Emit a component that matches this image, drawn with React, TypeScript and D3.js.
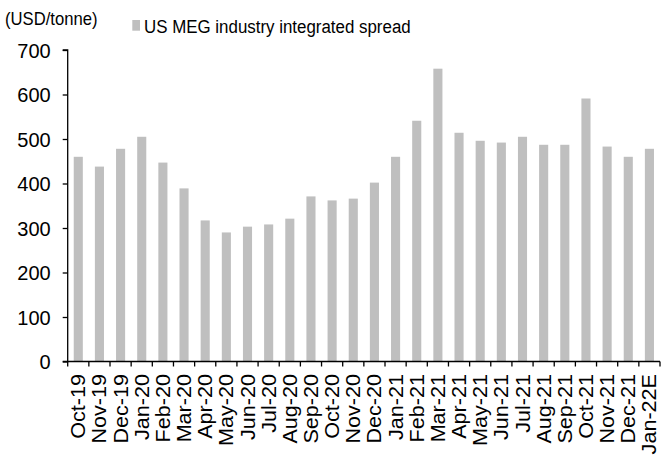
import { useEffect, useRef } from 'react';
import * as d3 from 'd3';

const months = [
  'Oct-19', 'Nov-19', 'Dec-19', 'Jan-20', 'Feb-20', 'Mar-20', 'Apr-20',
  'May-20', 'Jun-20', 'Jul-20', 'Aug-20', 'Sep-20', 'Oct-20', 'Nov-20',
  'Dec-20', 'Jan-21', 'Feb-21', 'Mar-21', 'Apr-21', 'May-21', 'Jun-21',
  'Jul-21', 'Aug-21', 'Sep-21', 'Oct-21', 'Nov-21', 'Dec-21', 'Jan-22E',
];

const spread = [
  460, 438, 478, 505, 447, 389, 317,
  290, 303, 308, 321, 371, 362, 366,
  402, 460, 541, 658, 514, 496, 492,
  505, 487, 487, 591, 483, 460, 478,
];

const yTicks = [0, 100, 200, 300, 400, 500, 600, 700];

const W = 666;
const H = 455;
const MARGIN = { top: 50, right: 6, bottom: 93.5, left: 67.7 };
const BAR_COLOR = '#bfbfbf';
const FONT = '"Liberation Sans", Arial, sans-serif';

export default function App() {
  const ref = useRef<SVGSVGElement | null>(null);

  useEffect(() => {
    if (!ref.current) return;
    const svg = d3.select(ref.current);
    svg.selectAll('*').remove();

    const innerW = W - MARGIN.left - MARGIN.right;
    const innerH = H - MARGIN.top - MARGIN.bottom;

    const x = d3.scaleBand<string>().domain(months).range([0, innerW]).paddingInner(0.57).paddingOuter(0.285);
    const xTicks = d3.scaleLinear().domain([0, months.length]).range([0, innerW]);
    const y = d3.scaleLinear().domain([0, 700]).range([innerH, 0]);

    const g = svg.append('g').attr('transform', `translate(${MARGIN.left},${MARGIN.top})`);

    g.selectAll('rect.bar')
      .data(spread)
      .enter()
      .append('rect')
      .attr('class', 'bar')
      .attr('x', (_, i) => x(months[i]) as number)
      .attr('width', x.bandwidth())
      .attr('y', (d) => y(d))
      .attr('height', (d) => innerH - y(d))
      .attr('fill', BAR_COLOR);

    // y axis
    const yAxis = g.append('g').call(
      d3.axisLeft(y).tickValues(yTicks).tickSize(5).tickPadding(12).tickFormat((d) => String(d))
    );
    yAxis.select('.domain').attr('stroke', '#000').attr('stroke-width', 1.3).attr('d', `M-5,0H0V${innerH}H-5`);
    yAxis.selectAll('.tick line').attr('stroke', '#000').attr('stroke-width', 1.3);
    yAxis.selectAll('.tick text')
      .attr('font-family', FONT)
      .attr('font-size', 20)
      .attr('dy', '0.36em')
      .attr('fill', '#000');

    // x axis: tick marks at category boundaries
    const xa = g.append('g').attr('transform', `translate(0,${innerH})`);
    xa.append('line')
      .attr('x1', 0)
      .attr('x2', innerW)
      .attr('stroke', '#000')
      .attr('stroke-width', 1.3);
    xa.selectAll('line.tk')
      .data(d3.range(months.length + 1))
      .enter()
      .append('line')
      .attr('class', 'tk')
      .attr('x1', (d) => xTicks(d))
      .attr('x2', (d) => xTicks(d))
      .attr('y1', 0)
      .attr('y2', 5)
      .attr('stroke', '#000')
      .attr('stroke-width', 1.3);
    xa.selectAll('text')
      .data(months)
      .enter()
      .append('text')
      .attr('transform', (d) => `translate(${(x(d) as number) + x.bandwidth() / 2 + 7},12.5) rotate(-90) scale(1.08,1)`)
      .attr('text-anchor', 'end')
      .attr('font-family', FONT)
      .attr('font-size', 20)
      .attr('fill', '#000')
      .text((d) => d);

    // unit label
    svg.append('text')
      .attr('transform', 'translate(5,24.5) scale(0.9,1)')
      .attr('font-family', FONT)
      .attr('font-size', 18.5)
      .attr('fill', '#000')
      .text('(USD/tonne)');

    // legend
    svg.append('rect')
      .attr('x', 132.3)
      .attr('y', 20)
      .attr('width', 7.7)
      .attr('height', 10.7)
      .attr('fill', BAR_COLOR);
    svg.append('text')
      .attr('transform', 'translate(144,32.5) scale(0.89,1)')
      .attr('font-family', FONT)
      .attr('font-size', 19)
      .attr('fill', '#000')
      .text('US MEG industry integrated spread');
  }, []);

  return (
    <svg
      ref={ref}
      width={W}
      height={H}
      style={{ position: 'absolute', left: 0, top: 0, background: '#fff' }}
    />
  );
}
